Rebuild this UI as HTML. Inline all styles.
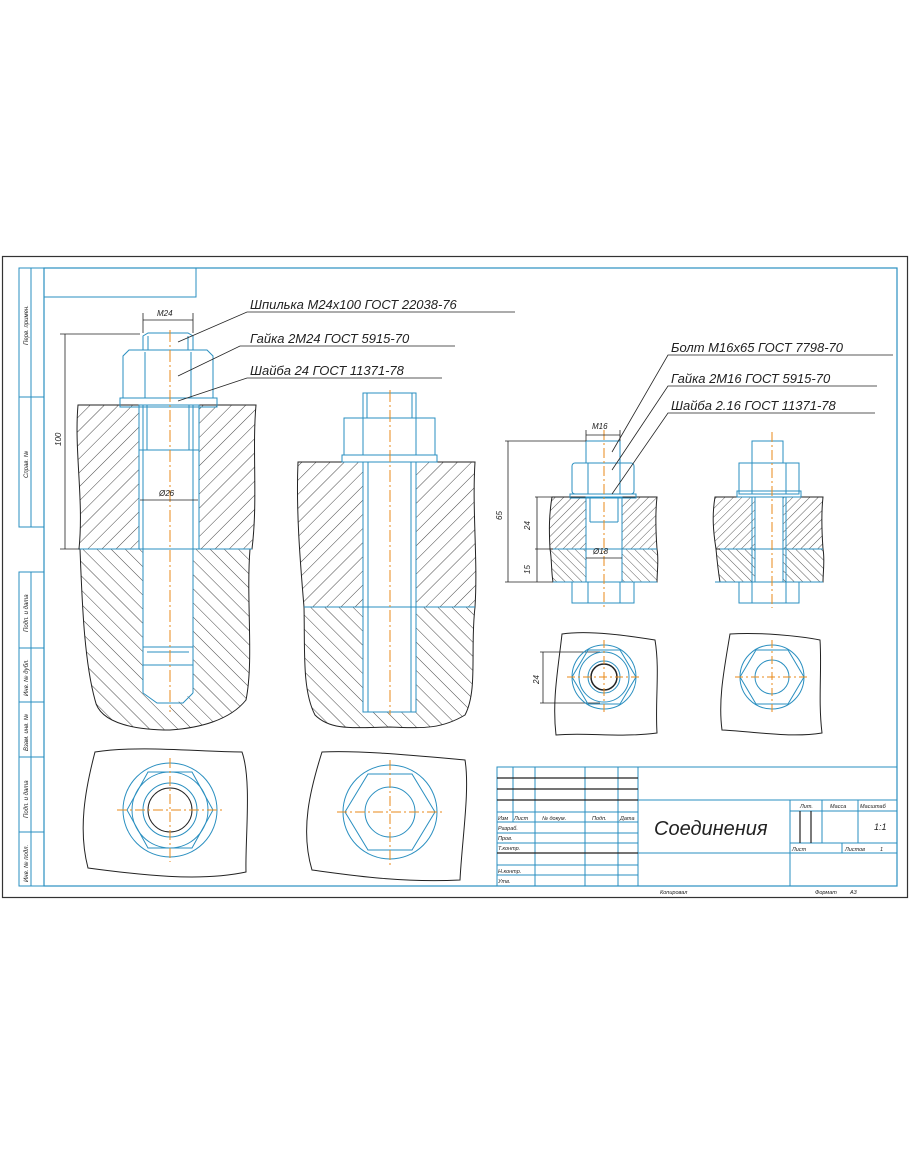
<!DOCTYPE html>
<html><head><meta charset="utf-8"><style>
html,body{margin:0;padding:0;background:#fff;width:910px;height:1155px;overflow:hidden}
svg{display:block}
text{font-family:"Liberation Sans",sans-serif;font-style:italic;fill:#222}
</style></head><body>
<svg width="910" height="1155" viewBox="0 0 910 1155" xmlns="http://www.w3.org/2000/svg">
<defs>
<pattern id="hA" width="10" height="10" patternUnits="userSpaceOnUse" patternTransform="rotate(45)"><line x1="0" y1="0" x2="0" y2="10" stroke="#333" stroke-width="0.9"/></pattern>
<pattern id="hB" width="10" height="10" patternUnits="userSpaceOnUse" patternTransform="rotate(-45)"><line x1="0" y1="0" x2="0" y2="10" stroke="#333" stroke-width="0.9"/></pattern>
<pattern id="hC" width="6" height="6" patternUnits="userSpaceOnUse" patternTransform="rotate(45)"><line x1="0" y1="0" x2="0" y2="6" stroke="#333" stroke-width="0.8"/></pattern>
<pattern id="hD" width="6" height="6" patternUnits="userSpaceOnUse" patternTransform="rotate(-45)"><line x1="0" y1="0" x2="0" y2="6" stroke="#333" stroke-width="0.8"/></pattern>
</defs>
<g fill="none">
<rect x="2.5" y="256.5" width="905" height="641" stroke="#333" stroke-width="1.2"/>
<rect x="44" y="268" width="853" height="618" stroke="#2a8fc0" stroke-width="1.2"/>
<g stroke="#2a8fc0" stroke-width="1">
<rect x="44" y="268" width="152" height="29"/>
<rect x="19" y="268" width="25" height="259"/><line x1="31" y1="268" x2="31" y2="527"/><line x1="19" y1="397" x2="44" y2="397"/>
<rect x="19" y="572" width="25" height="314"/><line x1="31" y1="572" x2="31" y2="886"/>
<line x1="19" y1="648" x2="44" y2="648"/><line x1="19" y1="702" x2="44" y2="702"/><line x1="19" y1="757" x2="44" y2="757"/><line x1="19" y1="832" x2="44" y2="832"/>
</g>
</g>
<g font-size="6" fill="#444">
<text transform="translate(28,345) rotate(-90)">Перв. примен.</text>
<text transform="translate(28,478) rotate(-90)">Справ. №</text>
<text transform="translate(28,632) rotate(-90)">Подп. и дата</text>
<text transform="translate(28,696) rotate(-90)">Инв. № дубл.</text>
<text transform="translate(28,751) rotate(-90)">Взам. инв. №</text>
<text transform="translate(28,818) rotate(-90)">Подп. и дата</text>
<text transform="translate(28,882) rotate(-90)">Инв. № подл.</text>
</g>

<!-- Assembly 1 -->
<path d="M78,405 L256,405 C252,450 258,500 252,549 L79,549 C84,500 74,450 78,405 Z" fill="url(#hA)" stroke="#222"/>
<path d="M80,549 L250,549 C246,600 254,660 246,700 C230,720 200,728 170,730 C140,730 100,725 95,700 C84,660 82,600 80,549 Z" fill="url(#hB)" stroke="#222"/>
<rect x="139" y="405" width="60" height="144" fill="#fff"/>
<path d="M143,549 L193,549 L193,693 L170,707 L143,693 Z" fill="#fff"/>
<g fill="none" stroke="#2a8fc0" stroke-width="1">
<rect x="139" y="405" width="60" height="144"/>
<line x1="143" y1="405" x2="143" y2="693"/><line x1="193" y1="405" x2="193" y2="693"/>
<line x1="147" y1="405" x2="147" y2="450"/><line x1="189" y1="405" x2="189" y2="450"/>
<line x1="139" y1="450" x2="199" y2="450"/>
<path d="M143,693 L157,703 L183,703 L193,693"/>
<rect x="143" y="647" width="50" height="18"/><line x1="147" y1="652" x2="189" y2="652"/>
<path d="M143,350 L143,336 L148,333 L188,333 L193,336 L193,350"/><line x1="148" y1="336" x2="148" y2="350"/><line x1="188" y1="336" x2="188" y2="350"/>
<path d="M123,398 L123,356 L129,350 L207,350 L213,356 L213,398 Z"/>
<line x1="145" y1="352" x2="145" y2="398"/><line x1="191" y1="352" x2="191" y2="398"/>
<rect x="120" y="398" width="97" height="9"/>
<line x1="78" y1="549" x2="252" y2="549"/>
</g>
<line x1="170" y1="330" x2="170" y2="712" stroke="#e88a1a" stroke-width="1" stroke-dasharray="12,3,2,3"/>
<g stroke="#222" stroke-width="0.8" fill="none">
<line x1="143" y1="313" x2="143" y2="333"/><line x1="193" y1="313" x2="193" y2="333"/><line x1="143" y1="320" x2="193" y2="320"/>
<line x1="60" y1="334" x2="140" y2="334"/><line x1="60" y1="549" x2="80" y2="549"/><line x1="65" y1="334" x2="65" y2="549"/>
<line x1="140" y1="500" x2="198" y2="500"/>
<polyline points="515,312 247,312 178,342"/>
<polyline points="455,346 240,346 178,376"/>
<polyline points="442,378 247,378 178,401"/>
</g>
<g font-size="8"><text x="157" y="316">M24</text><text x="159" y="496">Ø26</text>
<text transform="translate(61,446) rotate(-90)">100</text></g>
<g font-size="13"><text x="250" y="309">Шпилька М24х100 ГОСТ 22038-76</text>
<text x="250" y="343">Гайка 2М24 ГОСТ 5915-70</text>
<text x="250" y="375">Шайба 24 ГОСТ 11371-78</text></g>

<!-- Assembly 2 -->
<path d="M298,462 L475,462 C472,510 478,560 475,607 L304,607 C300,560 296,510 298,462 Z" fill="url(#hA)" stroke="#222"/>
<path d="M304,607 L475,607 C470,650 478,690 465,715 C440,730 420,728 390,727 C350,728 330,730 315,715 C302,690 305,650 304,607 Z" fill="url(#hB)" stroke="#222"/>
<rect x="363" y="462" width="53" height="250" fill="#fff"/>
<g fill="none" stroke="#2a8fc0" stroke-width="1">
<rect x="363" y="462" width="53" height="250"/><line x1="368" y1="462" x2="368" y2="712"/><line x1="411" y1="462" x2="411" y2="712"/>
<rect x="363" y="393" width="53" height="25"/><line x1="367" y1="393" x2="367" y2="418"/><line x1="412" y1="393" x2="412" y2="418"/>
<rect x="344" y="418" width="91" height="37"/><line x1="363" y1="418" x2="363" y2="455"/><line x1="416" y1="418" x2="416" y2="455"/>
<rect x="342" y="455" width="95" height="7"/>
<line x1="304" y1="607" x2="475" y2="607"/>
</g>
<line x1="390" y1="390" x2="390" y2="715" stroke="#e88a1a" stroke-dasharray="12,3,2,3"/>

<!-- Plan views left -->
<path d="M95,752 C140,745 200,752 242,752 C252,780 245,840 246,872 C200,882 140,875 88,868 C78,830 85,790 95,752 Z" fill="none" stroke="#222"/>
<path d="M322,752 C360,750 420,756 465,760 C470,790 462,840 460,880 C400,883 350,875 312,870 C300,830 310,790 322,752 Z" fill="none" stroke="#222"/>
<g fill="none" stroke="#2a8fc0" stroke-width="1">
<circle cx="170" cy="810" r="47"/><polygon points="127,810 148,772 192,772 213,810 192,848 148,848"/>
<circle cx="170" cy="810" r="38"/><circle cx="170" cy="810" r="27"/>
<circle cx="390" cy="812" r="47"/><polygon points="345,812 368,774 412,774 435,812 412,850 368,850"/>
<circle cx="390" cy="812" r="25"/>
</g>
<circle cx="170" cy="810" r="22" fill="none" stroke="#222"/>
<g stroke="#e88a1a" stroke-dasharray="10,3,2,3">
<line x1="117" y1="810" x2="222" y2="810"/><line x1="170" y1="758" x2="170" y2="862"/>
<line x1="337" y1="812" x2="442" y2="812"/><line x1="390" y1="760" x2="390" y2="866"/>
</g>

<!-- Bolt assembly 3 -->
<path d="M552,497 L657,497 C655,515 656,535 657,549 L550,549 C549,530 549,515 552,497 Z" fill="url(#hC)" stroke="#222"/>
<path d="M550,549 L657,549 C659,560 657,572 657,582 L553,582 C551,570 552,560 550,549 Z" fill="url(#hD)" stroke="#222"/>
<rect x="586" y="497" width="36" height="85" fill="#fff"/>
<g fill="none" stroke="#2a8fc0" stroke-width="1">
<rect x="586" y="497" width="36" height="85"/><line x1="590" y1="497" x2="590" y2="522"/><line x1="618" y1="497" x2="618" y2="522"/><line x1="590" y1="522" x2="618" y2="522"/>
<rect x="586" y="441" width="34" height="22"/>
<rect x="572" y="463" width="62" height="31" rx="3"/><line x1="588" y1="463" x2="588" y2="494"/><line x1="620" y1="463" x2="620" y2="494"/>
<rect x="570" y="494" width="66" height="4"/>
<rect x="572" y="582" width="62" height="21"/><line x1="588" y1="582" x2="588" y2="603"/><line x1="620" y1="582" x2="620" y2="603"/>
<line x1="553" y1="549" x2="657" y2="549"/><line x1="553" y1="582" x2="657" y2="582"/>
</g>
<line x1="604" y1="430" x2="604" y2="608" stroke="#e88a1a" stroke-dasharray="10,3,2,3"/>
<!-- Bolt assembly 4 -->
<path d="M715,497 L823,497 C821,515 822,535 823,549 L716,549 C713,530 712,515 715,497 Z" fill="url(#hC)" stroke="#222"/>
<path d="M716,549 L823,549 C825,560 823,572 823,582 L720,582 C718,570 717,560 716,549 Z" fill="url(#hD)" stroke="#222"/>
<rect x="755" y="497" width="28" height="85" fill="#fff"/>
<g fill="none" stroke="#2a8fc0" stroke-width="1">
<rect x="752" y="497" width="34" height="85"/><line x1="755" y1="497" x2="755" y2="582"/><line x1="783" y1="497" x2="783" y2="582"/>
<rect x="752" y="441" width="31" height="22"/>
<rect x="739" y="463" width="60" height="31"/><line x1="752" y1="463" x2="752" y2="494"/><line x1="786" y1="463" x2="786" y2="494"/>
<rect x="737" y="491" width="64" height="6"/>
<rect x="739" y="582" width="60" height="21"/><line x1="752" y1="582" x2="752" y2="603"/><line x1="786" y1="582" x2="786" y2="603"/>
<line x1="720" y1="549" x2="823" y2="549"/><line x1="715" y1="582" x2="823" y2="582"/>
</g>
<line x1="772" y1="432" x2="772" y2="608" stroke="#e88a1a" stroke-dasharray="10,3,2,3"/>
<g stroke="#222" stroke-width="0.8" fill="none">
<line x1="586" y1="430" x2="586" y2="441"/><line x1="620" y1="430" x2="620" y2="441"/><line x1="586" y1="435" x2="620" y2="435"/>
<line x1="505" y1="441" x2="586" y2="441"/><line x1="508" y1="441" x2="508" y2="582"/><line x1="505" y1="582" x2="553" y2="582"/>
<line x1="535" y1="497" x2="553" y2="497"/><line x1="535" y1="549" x2="553" y2="549"/><line x1="537" y1="497" x2="537" y2="582"/>
<line x1="586" y1="558" x2="622" y2="558"/>
<polyline points="893,355 668,355 612,452"/>
<polyline points="877,386 668,386 612,470"/>
<polyline points="875,413 668,413 612,494"/>
<line x1="540" y1="652" x2="600" y2="652"/><line x1="540" y1="703" x2="600" y2="703"/><line x1="543" y1="652" x2="543" y2="703"/>
</g>
<g font-size="8"><text x="592" y="429">M16</text><text x="593" y="554">Ø18</text>
<text transform="translate(502,520) rotate(-90)">65</text>
<text transform="translate(530,530) rotate(-90)">24</text>
<text transform="translate(530,574) rotate(-90)">15</text>
<text transform="translate(539,684) rotate(-90)">24</text></g>
<g font-size="13"><text x="671" y="352">Болт М16х65 ГОСТ 7798-70</text>
<text x="671" y="383">Гайка 2М16 ГОСТ 5915-70</text>
<text x="671" y="410">Шайба 2.16 ГОСТ 11371-78</text></g>
<path d="M562,634 C590,630 630,636 655,640 C660,670 655,700 657,733 C620,738 585,732 556,735 C552,700 558,670 562,634 Z" fill="none" stroke="#222"/>
<path d="M730,634 C760,632 800,636 820,640 C822,670 818,700 822,733 C790,738 760,732 722,730 C718,700 724,670 730,634 Z" fill="none" stroke="#222"/>
<g fill="none" stroke="#2a8fc0" stroke-width="1">
<circle cx="604" cy="677" r="32"/><polygon points="572,677 588,650 620,650 636,677 620,704 588,704"/><circle cx="604" cy="677" r="25"/><circle cx="604" cy="677" r="16"/>
<circle cx="772" cy="677" r="32"/><polygon points="740,677 756,650 788,650 804,677 788,704 756,704"/><circle cx="772" cy="677" r="17"/>
</g>
<circle cx="604" cy="677" r="13" fill="none" stroke="#222" stroke-width="1.5"/>
<g stroke="#e88a1a" stroke-dasharray="8,3,2,3">
<line x1="567" y1="677" x2="641" y2="677"/><line x1="604" y1="640" x2="604" y2="714"/>
<line x1="735" y1="677" x2="809" y2="677"/><line x1="772" y1="640" x2="772" y2="714"/>
</g>

<!-- Title block -->
<g fill="none" stroke="#2a8fc0" stroke-width="1">
<rect x="497" y="767" width="400" height="119"/>
<line x1="513" y1="767" x2="513" y2="822"/><line x1="535" y1="767" x2="535" y2="886"/><line x1="585" y1="767" x2="585" y2="886"/><line x1="618" y1="767" x2="618" y2="886"/><line x1="638" y1="767" x2="638" y2="886"/>
<line x1="638" y1="800" x2="897" y2="800"/><line x1="638" y1="853" x2="897" y2="853"/>
<line x1="790" y1="800" x2="790" y2="886"/><line x1="790" y1="811" x2="897" y2="811"/><line x1="790" y1="843" x2="897" y2="843"/>
<line x1="822" y1="800" x2="822" y2="843"/><line x1="858" y1="800" x2="858" y2="843"/><line x1="842" y1="843" x2="842" y2="853"/>
<line x1="497" y1="812" x2="638" y2="812"/><line x1="497" y1="822" x2="638" y2="822"/><line x1="497" y1="833" x2="638" y2="833"/><line x1="497" y1="843" x2="638" y2="843"/><line x1="497" y1="865" x2="638" y2="865"/><line x1="497" y1="875" x2="638" y2="875"/>
</g>
<g stroke="#222" stroke-width="1.2">
<line x1="497" y1="778" x2="638" y2="778"/><line x1="497" y1="789" x2="638" y2="789"/><line x1="497" y1="800" x2="638" y2="800"/>
<line x1="497" y1="853" x2="638" y2="853"/>
<line x1="800" y1="811" x2="800" y2="843"/><line x1="811" y1="811" x2="811" y2="843"/>
</g>
<g font-size="5.5" fill="#444">
<text x="498" y="820">Изм</text><text x="514" y="820">Лист</text><text x="542" y="820">№ докум.</text><text x="592" y="820">Подп.</text><text x="620" y="820">Дата</text>
<text x="498" y="830">Разраб.</text><text x="498" y="840">Пров.</text><text x="498" y="850">Т.контр.</text>
<text x="498" y="873">Н.контр.</text><text x="498" y="883">Утв.</text>
<text x="800" y="808">Лит.</text><text x="830" y="808">Масса</text><text x="860" y="808">Масштаб</text>
<text x="792" y="851">Лист</text><text x="845" y="851">Листов</text><text x="880" y="851">1</text>
<text x="660" y="894">Копировал</text><text x="815" y="894">Формат</text><text x="850" y="894">А3</text>
</g>
<text x="874" y="830" font-size="9">1:1</text>
<text x="654" y="835" font-size="20">Соединения</text>
</svg>
</body></html>
